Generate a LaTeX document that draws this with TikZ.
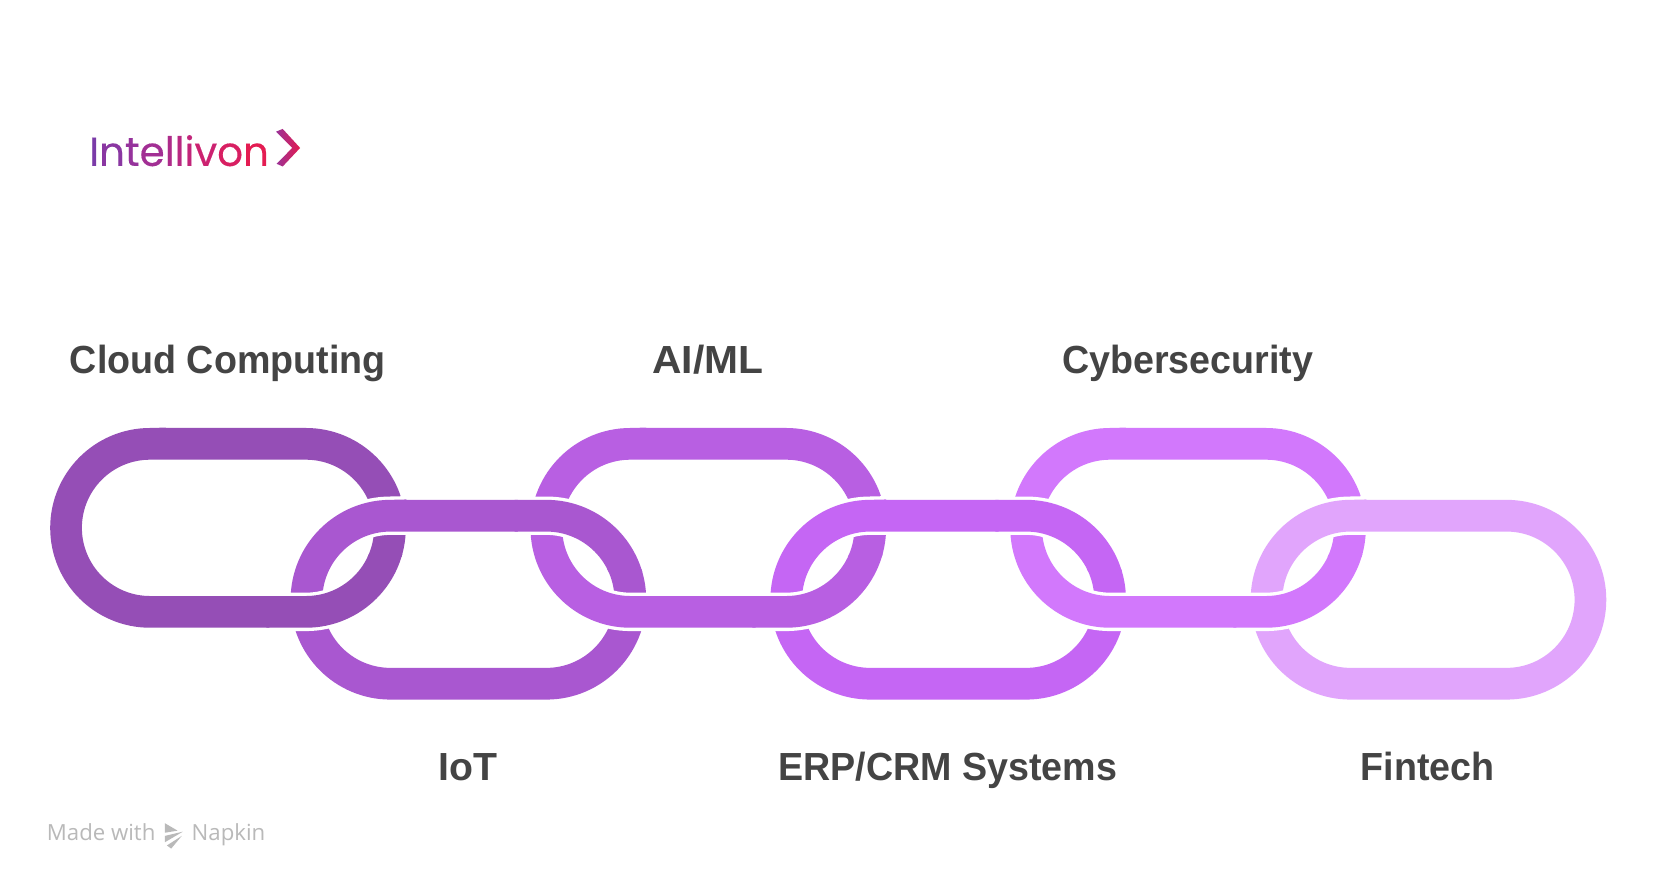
\documentclass[tikz,border=0pt]{standalone}
\usepackage{fontspec}
\setmainfont[FakeStretch=0.96]{Liberation Sans}
\newfontfamily\plaincap{Liberation Sans}
\newfontfamily\widecap[FakeStretch=1.04]{Liberation Sans}
\newfontfamily\logofont[FakeBold=0.35]{Poppins}
\newfontfamily\markfont{Open Sans}
\definecolor{linkA}{HTML}{954EB6}
\definecolor{linkB}{HTML}{A957D0}
\definecolor{linkC}{HTML}{B85FE2}
\definecolor{linkD}{HTML}{C566F4}
\definecolor{linkE}{HTML}{D278FC}
\definecolor{linkF}{HTML}{E1A5FC}
\definecolor{labelgray}{HTML}{444444}
\definecolor{markgray}{HTML}{B9B9B9}
\definecolor{logostart}{HTML}{9A3398}
\definecolor{logoend}{HTML}{E41A4E}
\tikzset{
  x=.5284pt,y=-.5284pt,
  linkband/.style={line width=15.85pt},
  linkhalo/.style={line width=19.2pt,white},
  caption/.style={font=\fontsize{19.6}{22}\selectfont\bfseries,text=labelgray,inner sep=0pt,anchor=base},
  logotext/.style={font=\fontsize{20.2}{22}\logofont,inner sep=0pt,anchor=base west},
  marktext/.style={font=\fontsize{11.1}{14}\markfont,text=markgray,inner sep=0pt,anchor=base west},
}
% #1 left arc centre x, #2 centre y
\newcommand{\chainlink}[2]{(#1,#2-79.5) -- (#1+147.5,#2-79.5) arc[start angle=90,end angle=-90,radius=42.008pt] -- (#1,#2+79.5) arc[start angle=270,end angle=90,radius=42.008pt] -- cycle}
% re-draw link part over its successor: #1 colour, #2 x, #3 y, #4-#7 halo window; the band window is slightly larger so no seam shows
\newcommand{\overpass}[7]{%
  \begin{scope}\clip (#4,#5) rectangle (#6,#7);
  \draw[linkhalo] \chainlink{#2}{#3};
  \end{scope}
  \begin{scope}\clip (#4-3,#5-3) rectangle (#6+3,#7+3);
  \draw[linkband,#1] \chainlink{#2}{#3};
  \end{scope}}
\begin{document}
\begin{tikzpicture}
\useasboundingbox (0,0) rectangle (1568,840.2);
\fill[white] (0,0) rectangle (1568,840.2);
% links, left to right; each one goes over its predecessor at the upper crossing
\draw[linkband,linkA] \chainlink{142}{499.5};
\draw[linkhalo] \chainlink{369.5}{567.5};
\draw[linkband,linkB] \chainlink{369.5}{567.5};
\overpass{linkA}{142}{499.5}{255}{528}{400}{612}
\draw[linkhalo] \chainlink{596.5}{499.5};
\draw[linkband,linkC] \chainlink{596.5}{499.5};
\overpass{linkB}{369.5}{567.5}{490}{460}{625}{538}
\draw[linkhalo] \chainlink{823.5}{567.5};
\draw[linkband,linkD] \chainlink{823.5}{567.5};
\overpass{linkC}{596.5}{499.5}{715}{528}{855}{612}
\draw[linkhalo] \chainlink{1050.5}{499.5};
\draw[linkband,linkE] \chainlink{1050.5}{499.5};
\overpass{linkD}{823.5}{567.5}{945}{460}{1080}{538}
\draw[linkhalo] \chainlink{1278}{567.5};
\draw[linkband,linkF] \chainlink{1278}{567.5};
\overpass{linkE}{1050.5}{499.5}{1170}{528}{1310}{612}
% captions
\node[caption] (capa) at (215.5,353) {Cloud Computing};
\node[caption] (capb) at (442.5,739) {\plaincap IoT};
\node[caption] (capc) at (670,353) {\widecap AI/ML};
\node[caption] (capd) at (897,739) {ERP/CRM Systems};
\node[caption] (cape) at (1124,353) {Cybersecurity};
\node[caption] (capf) at (1351,739) {Fintech};
% logo
\node[logotext] (logo) at (84,157) {\textcolor[HTML]{7B3BA8}{I}\textcolor[HTML]{8A37A2}{n}\textcolor[HTML]{96339C}{t}\textcolor[HTML]{A22F94}{e}\textcolor[HTML]{AE2B8A}{l}\textcolor[HTML]{B82882}{l}\textcolor[HTML]{C2257A}{i}\textcolor[HTML]{CC2270}{v}\textcolor[HTML]{D81F62}{o}\textcolor[HTML]{E41C52}{n}};
\shade[left color=logostart,right color=logoend] (261.2,124.6) -- (267.5,122) -- (284,140) -- (267.5,157.5) -- (261.8,155) -- (276.5,140) -- cycle;
% watermark
\node[marktext] (made) at (44,795) {Made with};
\node[marktext] (napkin) at (181,795) {Napkin};
\fill[markgray] (156,779) -- (168,786) -- (156,788) -- cycle;
\fill[markgray] (156,791) -- (173,787) -- (156,797) -- cycle;
\fill[markgray] (158,800) -- (172,791) -- (162,803) -- cycle;
\end{tikzpicture}
\end{document}
